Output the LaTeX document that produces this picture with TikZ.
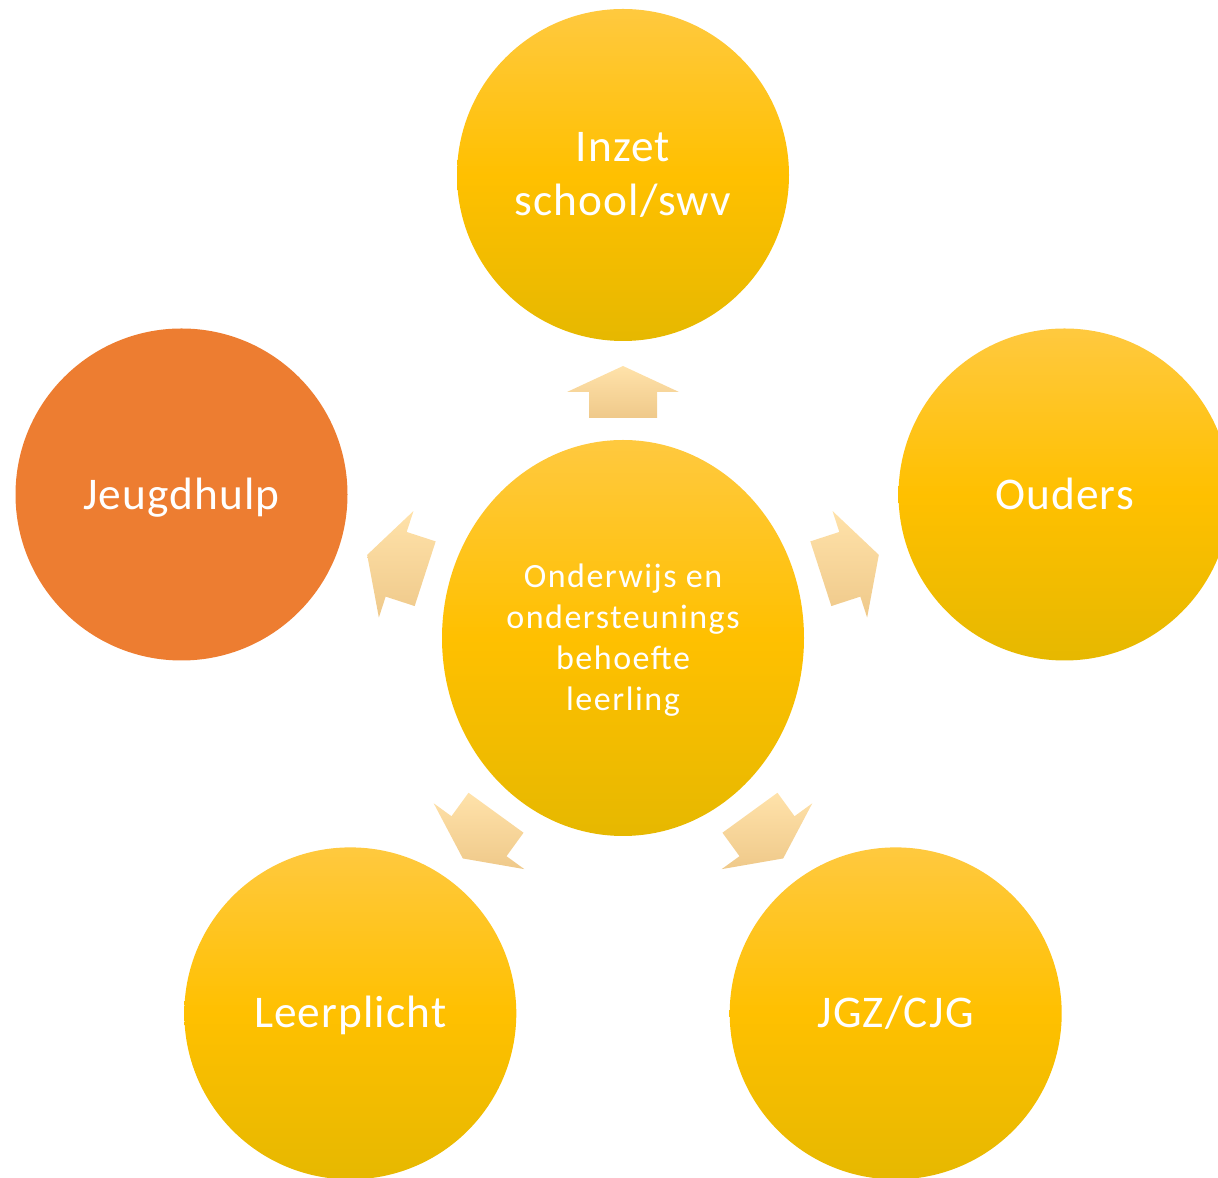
\documentclass[tikz,border=0pt]{standalone}
\usepackage{fontspec}
\setmainfont{Carlito}
\newfontfamily\bigfont[LetterSpace=2.5]{Carlito}
\newfontfamily\hubfont[LetterSpace=4.5]{Carlito}
\usetikzlibrary{shapes.geometric,calc}
\definecolor{gtop}{HTML}{FFC93F}
\definecolor{gmid}{HTML}{FFC000}
\definecolor{gbot}{HTML}{E6B800}
\definecolor{orng}{HTML}{ED7D31}
\definecolor{atop}{HTML}{FFE2AA}
\definecolor{abot}{HTML}{EFC98A}
\tikzset{
  bub/.style={circle, minimum size=249pt, inner sep=0pt, top color=gtop, bottom color=gbot, middle color=gmid, text=white, align=center, font=\bigfont\fontsize{34}{40}\selectfont},
  one/.style={text height=21.9pt, text depth=0pt},
  obub/.style={circle, minimum size=249pt, inner sep=0pt, fill=orng, text=white, align=center, font=\bigfont\fontsize{34}{40}\selectfont},
  hub/.style={ellipse, minimum width=271.5pt, minimum height=297pt, inner sep=0pt, top color=gtop, bottom color=gbot, middle color=gmid, text=white, align=center, font=\hubfont\fontsize{25.5}{30.75}\selectfont},
  arr/.style={top color=atop, bottom color=abot}
}
\begin{document}
\begin{tikzpicture}[x=0.75pt,y=0.75pt]
\useasboundingbox (0,0) rectangle (1218,1178);
\clip (0,0) rectangle (1218,1178);
\node[hub] (c) at (623,540) {};
\node[text=white, align=center, font=\hubfont\fontsize{25.5}{30.75}\selectfont] (ct) at (623,538) {Onderwijs en\\ondersteunings\\behoefte\\leerling};
\node[bub] (t) at (623,1003) {Inzet\\school/swv};
\node[bub, one] (r) at (1064.5,683.5) {Ouders};
\node[obub, one] (l) at (181.5,683.5) {Jeugdhulp};
\node[bub, one] (bl) at (350.3,164.6) {Leerplicht};
\node[bub, one] (br) at (895.7,164.6) {JGZ/CJG};
\foreach \a/\T/\W/\B in {90/272/246/220, 18/269/238.5/208, 162/269/238.5/208, 234/272.5/245/216, 306/272.5/245/216}{
  \shade[arr] ($(c.center)+(\a:\T)$) --
    ($(c.center)+(\a:\W)+(\a-90:56)$) --
    ($(c.center)+(\a:\W)+(\a-90:34)$) --
    ($(c.center)+(\a:\B)+(\a-90:34)$) --
    ($(c.center)+(\a:\B)+(\a+90:34)$) --
    ($(c.center)+(\a:\W)+(\a+90:34)$) --
    ($(c.center)+(\a:\W)+(\a+90:56)$) -- cycle;
}
\end{tikzpicture}
\end{document}
